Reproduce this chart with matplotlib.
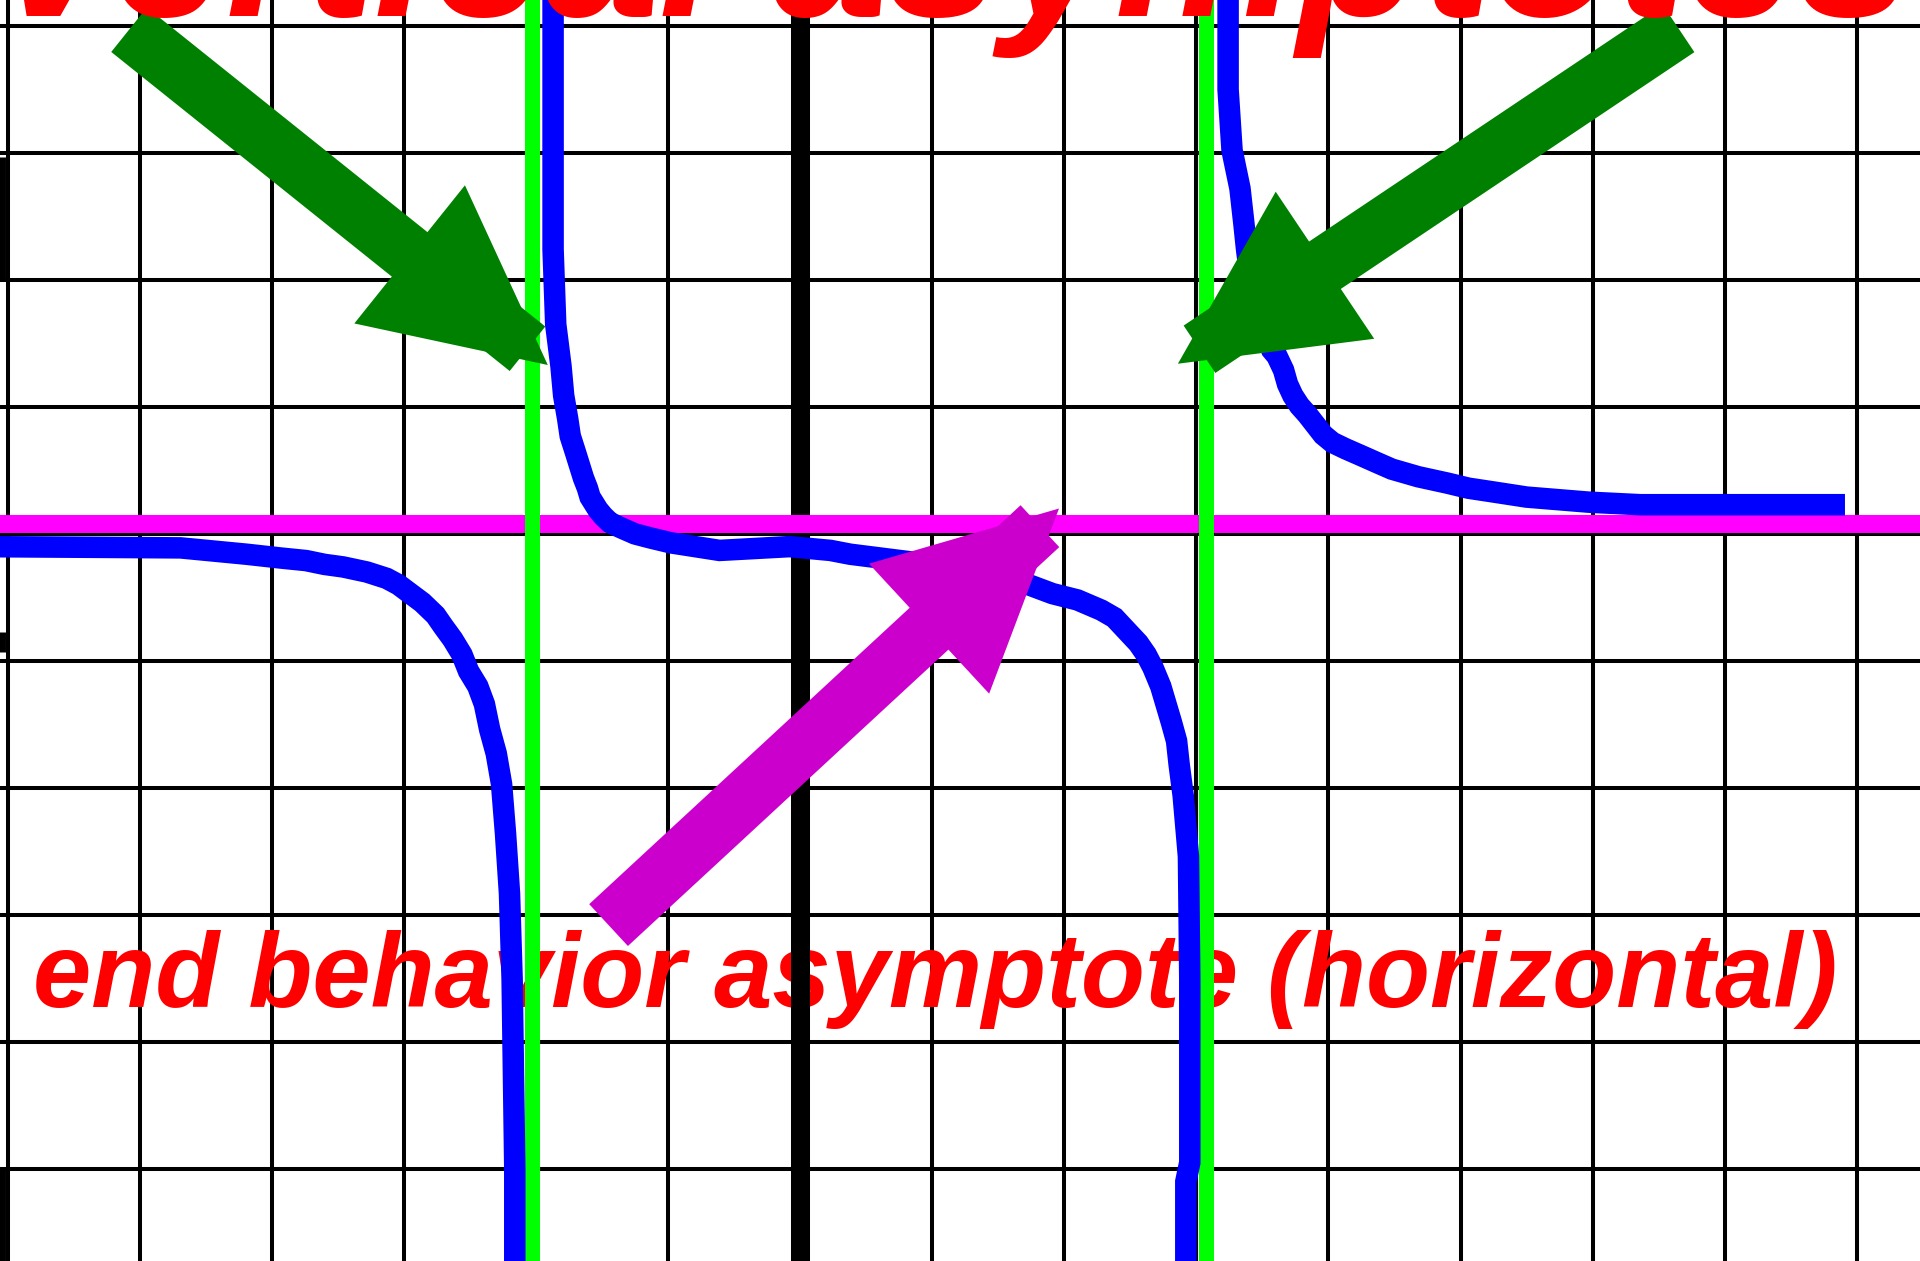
import numpy as np
import matplotlib.pyplot as plt
from matplotlib import font_manager
from matplotlib.patches import Polygon

# curve branches, in grid units
left_x = [-6.20, -4.69, -4.19, -3.93, -3.74, -3.60, -3.46, -3.28, -3.13, -3.04, -2.95, -2.86, -2.76, -2.70,
          -2.63, -2.56, -2.51, -2.44, -2.39, -2.35, -2.30, -2.26, -2.23, -2.20, -2.18, -2.16, -2.16]
left_y = [0.90, 0.89, 0.84, 0.81, 0.79, 0.76, 0.74, 0.70, 0.65, 0.60, 0.53, 0.46, 0.36, 0.27,
          0.17, 0.05, -0.08, -0.20, -0.34, -0.54, -0.73, -0.97, -1.36, -1.83, -2.51, -4.00, -4.90]

mid_x = [-1.87, -1.87, -1.85, -1.81, -1.79, -1.76, -1.74, -1.70, -1.67, -1.64, -1.61, -1.59, -1.56, -1.53,
         -1.49, -1.44, -1.36, -1.25, -1.14, -0.98, -0.61, -0.08, 0.23, 0.38, 0.76, 1.21, 1.51, 1.73,
         1.91, 2.10, 2.28, 2.38, 2.47, 2.56, 2.62, 2.67, 2.73, 2.77, 2.81, 2.85, 2.87, 2.90, 2.94,
         2.95, 2.95, 2.92, 2.92]
mid_y = [5.40, 3.24, 2.65, 2.32, 2.09, 1.91, 1.77, 1.64, 1.54, 1.44, 1.36, 1.29, 1.24, 1.19,
         1.14, 1.09, 1.05, 1.00, 0.97, 0.93, 0.87, 0.90, 0.87, 0.84, 0.79, 0.73, 0.67, 0.60,
         0.53, 0.48, 0.40, 0.34, 0.24, 0.14, 0.05, -0.05, -0.20, -0.34, -0.48, -0.63, -0.82, -1.06, -1.54,
         -2.51, -3.95, -4.10, -4.90]

right_x = [3.24, 3.24, 3.27, 3.33, 3.36, 3.38, 3.42, 3.50, 3.57, 3.61, 3.66, 3.69, 3.73, 3.78, 3.84,
           3.90, 3.96, 4.03, 4.13, 4.24, 4.37, 4.48, 4.68, 4.90, 5.06, 5.25, 5.50, 5.97, 6.36, 7.91]
right_y = [5.40, 4.50, 4.02, 3.72, 3.44, 3.24, 2.92, 2.64, 2.45, 2.40, 2.29, 2.18, 2.09, 2.01, 1.94,
           1.86, 1.78, 1.72, 1.67, 1.62, 1.56, 1.51, 1.45, 1.40, 1.36, 1.33, 1.29, 1.25, 1.23, 1.23]

vert_asymptotes = [-2.03, 3.07]
horiz_asymptote = 1.08

# arrows: (tail, tip)
green_arrows = [((-5.08, 4.97), (-1.91, 2.33)),
                ((6.65, 4.98), (2.86, 2.34))]
magenta_arrow = ((-1.45, -2.08), (1.96, 1.20))

# pick a condensed face if there is one
names = {f.name for f in font_manager.fontManager.ttflist}
if 'Liberation Sans Narrow' in names:
    face, shrink = 'Liberation Sans Narrow', 1.0
else:
    face, shrink = 'Liberation Sans', 0.82

fig = plt.figure(figsize=(19.2, 12.61), dpi=100)
ax = fig.add_axes([0, 0, 1, 1])
ax.set_xlim(-6.057, 8.478)
ax.set_ylim(-4.725, 5.204)
for s in ax.spines.values():
    s.set_visible(False)

ax.set_xticks(np.arange(-6, 9))
ax.set_yticks(np.arange(-4, 6))
ax.tick_params(length=0, labelbottom=False, labelleft=False)
ax.grid(True, color='black', linewidth=2.9, zorder=0)
ax.set_axisbelow(True)

# odd dark bits along the left edge
for y0, y1 in [(3.97, 3.0), (0.23, 0.07), (-4.0, -4.9)]:
    ax.plot([-6.04, -6.04], [y0, y1], color='black', lw=5, solid_capstyle='butt', zorder=1)

ax.text(-5.81, -2.726, 'end behavior asymptote (horizontal)', color='red', fontsize=92 * shrink,
        family=face, fontweight='bold', fontstyle='italic', ha='left', va='baseline', zorder=2)

ax.axvline(0, color='black', lw=13.7, zorder=3)
ax.axhline(horiz_asymptote, color='#FF00FF', lw=13, zorder=4)
for xa in vert_asymptotes:
    ax.axvline(xa, color='#00FF00', lw=10.8, zorder=5)

for bx, by in [(left_x, left_y), (mid_x, mid_y), (right_x, right_y)]:
    ax.plot(bx, by, color='#0000FF', lw=15.5, solid_capstyle='butt', solid_joinstyle='miter', zorder=6)


def block_arrow(tail, tip, color, shaft_w=57, head_w=177, head_len=177, shaft_gap=26):
    # build the shape in pixels, then hand it back in data units
    t = ax.transData
    p0 = t.transform(tail)
    p1 = t.transform(tip)
    u = (p1 - p0) / np.hypot(*(p1 - p0))
    n = np.array([-u[1], u[0]])
    base = p1 - u * head_len
    head = [p1, base + n * head_w / 2, base - n * head_w / 2]
    end = p1 - u * shaft_gap
    shaft = [p0 + n * shaft_w / 2, end + n * shaft_w / 2, end - n * shaft_w / 2, p0 - n * shaft_w / 2]
    inv = t.inverted()
    for pts in (shaft, head):
        ax.add_patch(Polygon(inv.transform(np.array(pts)), closed=True, color=color, lw=0, zorder=7))


for tail, tip in green_arrows:
    block_arrow(tail, tip, '#008000')
block_arrow(*magenta_arrow, '#CC00CC')

ax.text(1.17, 5.08, 'vertical asymptotes', color='red', fontsize=180 * shrink,
        family=face, fontweight='bold', fontstyle='italic', ha='center', va='baseline', zorder=8)

fig.savefig('out.png', dpi=100)
